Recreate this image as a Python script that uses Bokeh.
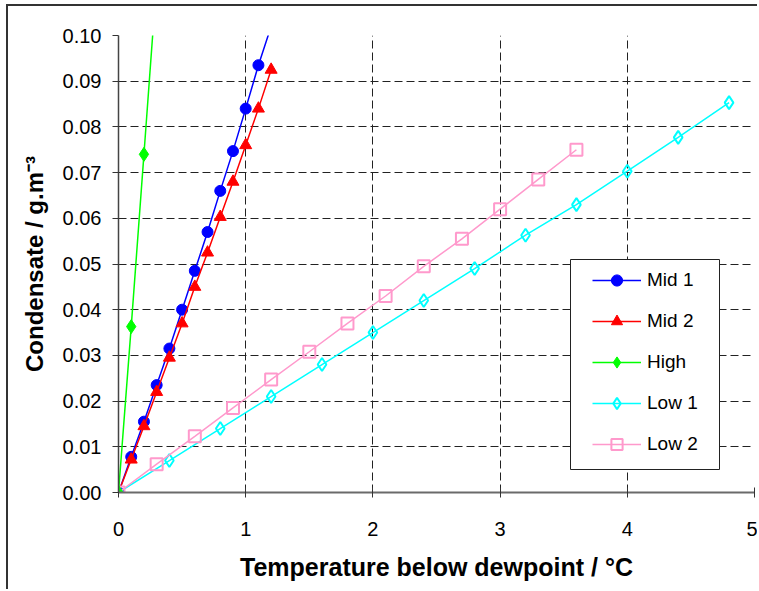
from bokeh.plotting import figure
from bokeh.models import (FixedTicker, NumeralTickFormatter, Legend, LegendItem, BoxAnnotation)
from bokeh.embed import file_html
from bokeh.resources import INLINE

# ---- data ----
mid1_x = [0, 0.1, 0.2, 0.3, 0.4, 0.5, 0.6, 0.7, 0.8, 0.9, 1.0, 1.1, 1.2]
mid1_y = [0, 0.0078, 0.0155, 0.0235, 0.0315, 0.040, 0.0485, 0.057, 0.066, 0.0747, 0.084, 0.0935, 0.102]

mid2_x = [0, 0.1, 0.2, 0.3, 0.4, 0.5, 0.6, 0.7, 0.8, 0.9, 1.0, 1.1, 1.2]
mid2_y = [0, 0.0072, 0.0145, 0.022, 0.0295, 0.037, 0.045, 0.0525, 0.0603, 0.068, 0.076, 0.084, 0.0925]

high_x = [0, 0.1, 0.2, 0.3]
high_y = [0, 0.0363, 0.074, 0.112]

low1_x = [0, 0.4, 0.8, 1.2, 1.6, 2.0, 2.4, 2.8, 3.2, 3.6, 4.0, 4.4, 4.8]
low1_y = [0, 0.007, 0.014, 0.021, 0.028, 0.035, 0.042, 0.049, 0.0563, 0.063, 0.0703, 0.0777, 0.0853]

low2_x = [0, 0.3, 0.6, 0.9, 1.2, 1.5, 1.8, 2.1, 2.4, 2.7, 3.0, 3.3, 3.6]
low2_y = [0, 0.0062, 0.0123, 0.0185, 0.0247, 0.0308, 0.037, 0.043, 0.0495, 0.0555, 0.062, 0.0685, 0.075]

x_ticks = [0, 1, 2, 3, 4, 5]
y_ticks = [0.0, 0.01, 0.02, 0.03, 0.04, 0.05, 0.06, 0.07, 0.08, 0.09, 0.10]

x_title = "Temperature below dewpoint / °C"
y_title = "Condensate / g.m\u207b\u00b3"

FONT = "Liberation Sans"

p = figure(width=751, height=585, x_range=(0, 5), y_range=(0, 0.1),
           output_backend="svg", toolbar_location=None,
           min_border_left=110, min_border_right=5, min_border_top=29, min_border_bottom=99)
p.styles = {"margin-left": "6px", "margin-top": "4px",
            "border-left": "2px solid #333", "border-top": "2px solid #333"}
p.outline_line_color = None
p.background_fill_color = "white"
p.border_fill_color = "white"

# grids
for g in (p.xgrid, p.ygrid):
    g.grid_line_color = "#222222"
    g.grid_line_dash = "8 4"
    g.grid_line_width = 1
p.xgrid.ticker = FixedTicker(ticks=x_ticks)
p.ygrid.ticker = FixedTicker(ticks=y_ticks)

# axes
p.xaxis.ticker = FixedTicker(ticks=x_ticks)
p.yaxis.ticker = FixedTicker(ticks=y_ticks)
p.yaxis.formatter = NumeralTickFormatter(format="0.00")
p.xaxis.minor_tick_line_color = None
p.yaxis.minor_tick_line_color = None
p.xaxis.axis_line_color = "#6a6a6a"
p.xaxis.axis_line_width = 2
p.yaxis.axis_line_color = "#444444"
p.yaxis.axis_line_width = 1.5
p.xaxis.major_tick_line_color = "#333333"
p.yaxis.major_tick_line_color = "#333333"
p.xaxis.major_tick_in = 5
p.xaxis.major_tick_out = 5
p.yaxis.major_tick_in = 0
p.yaxis.major_tick_out = 6
for ax in (p.xaxis, p.yaxis):
    ax.major_label_text_font = FONT
    ax.major_label_text_font_size = "20px"
    ax.major_label_text_color = "black"
    ax.axis_label_text_font = FONT
    ax.axis_label_text_font_style = "bold"
    ax.axis_label_text_color = "black"
p.xaxis.axis_label_text_font_size = "25px"
p.yaxis.axis_label_text_font_size = "24px"
p.xaxis.major_label_standoff = 24
p.yaxis.major_label_standoff = 11
p.xaxis.axis_label = x_title
p.yaxis.axis_label = y_title
p.xaxis.axis_label_standoff = 14
p.yaxis.axis_label_standoff = 12

# series
lw = 1.5
m1l = p.line(mid1_x, mid1_y, line_color="#0000FF", line_width=lw)
m1s = p.scatter(mid1_x, mid1_y, marker="circle", size=11, fill_color="#0000FF", line_color="#0000FF")
m2l = p.line(mid2_x, mid2_y, line_color="#FF0000", line_width=lw)
m2s = p.scatter(mid2_x, mid2_y, marker="triangle", size=12, fill_color="#FF0000", line_color="#FF0000")
l1l = p.line(low1_x, low1_y, line_color="#00FFFF", line_width=lw)
l1s = p.scatter(low1_x, low1_y, marker="diamond", size=13, fill_color=None, line_color="#00FFFF", line_width=2)
l2l = p.line(low2_x, low2_y, line_color="#FF99CC", line_width=lw)
l2s = p.scatter(low2_x, low2_y, marker="square", size=12, fill_color=None, line_color="#FF99CC", line_width=2)
hl = p.line(high_x, high_y, line_color="#00FF00", line_width=lw)
hs = p.scatter(high_x, high_y, marker="diamond", size=14, fill_color="#00FF00", line_color="#00FF00")

# legend frame (drawn separately so the entries can sit where the reference has them)
box = BoxAnnotation(left=452, right=601, bottom=23, top=233,
                    left_units="screen", right_units="screen",
                    bottom_units="screen", top_units="screen",
                    fill_color="white", fill_alpha=1.0,
                    line_color="#222222", line_width=1, line_alpha=1.0)
p.add_layout(box)

legend = Legend(items=[
    LegendItem(label="Mid 1", renderers=[m1l, m1s]),
    LegendItem(label="Mid 2", renderers=[m2l, m2s]),
    LegendItem(label="High", renderers=[hl, hs]),
    LegendItem(label="Low 1", renderers=[l1l, l1s]),
    LegendItem(label="Low 2", renderers=[l2l, l2s]),
], location=(474, 34))
legend.label_text_font = FONT
legend.label_text_font_size = "19px"
legend.label_text_color = "black"
legend.border_line_color = None
legend.background_fill_alpha = 0
legend.padding = 0
legend.spacing = 13
legend.glyph_width = 49
legend.glyph_height = 28
legend.label_height = 28
legend.label_standoff = 6
legend.margin = 0
p.add_layout(legend, "center")

open("out.html", "w").write(file_html(p, INLINE))
